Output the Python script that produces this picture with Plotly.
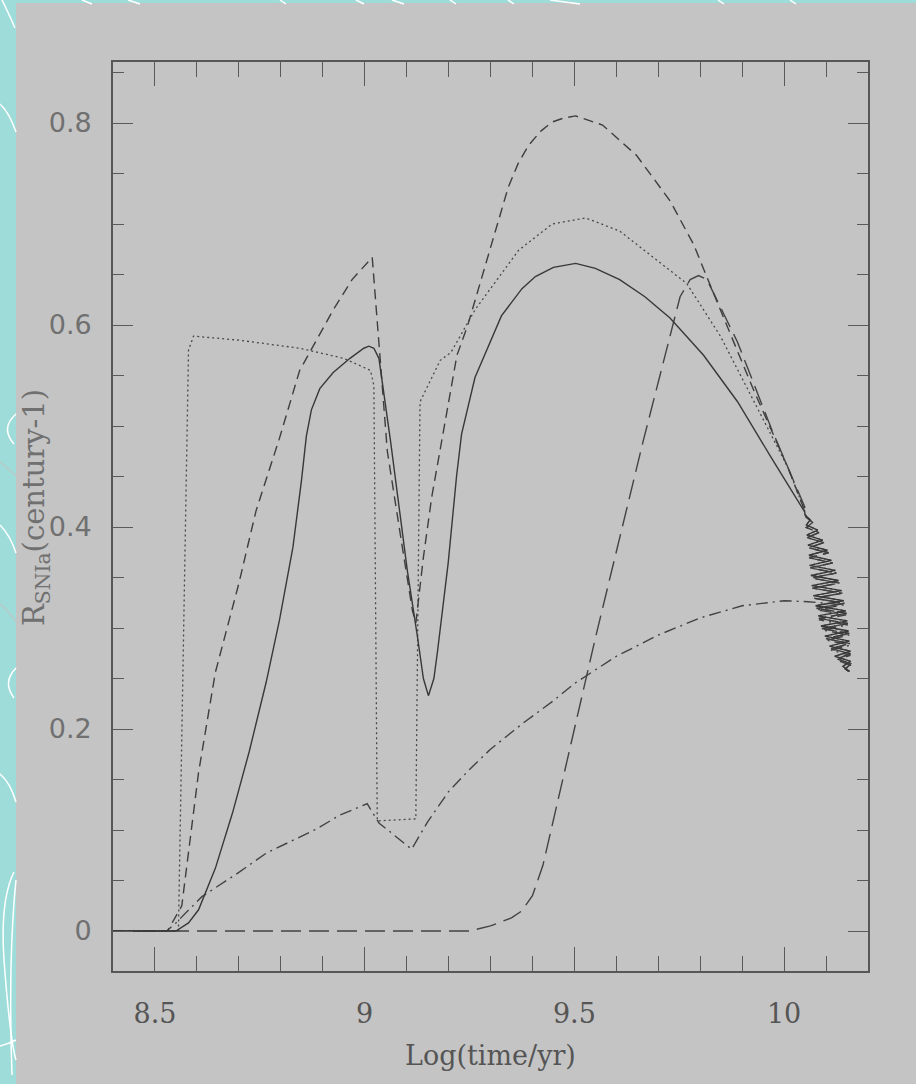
import plotly.graph_objects as go

# ---- data: log(age/yr) vs SN Ia rate (per century) ----
SOLID_X = [8.40, 8.55, 8.58, 8.604, 8.644, 8.685, 8.725, 8.765, 8.797, 8.829, 8.849,
           8.861, 8.873, 8.893, 8.925, 8.965, 8.998, 9.010, 9.022, 9.034, 9.062, 9.102, 9.126,
           9.140, 9.152, 9.165, 9.174, 9.199, 9.219, 9.231, 9.263, 9.303, 9.326, 9.375, 9.407,
           9.450, 9.503, 9.550, 9.608, 9.668, 9.728, 9.808, 9.889, 9.969, 10.049]
SOLID_Y = [0.0, 0.0, 0.008, 0.021, 0.062, 0.117, 0.178, 0.246, 0.308, 0.380, 0.445,
           0.490, 0.516, 0.537, 0.553, 0.567, 0.577, 0.579, 0.577, 0.567, 0.484, 0.356, 0.291,
           0.250, 0.233, 0.250, 0.278, 0.364, 0.450, 0.492, 0.548, 0.587, 0.609, 0.636, 0.648,
           0.657, 0.661, 0.656, 0.645, 0.628, 0.607, 0.570, 0.524, 0.469, 0.415]

DASH_X = [8.40, 8.53, 8.564, 8.604, 8.644, 8.700, 8.741, 8.797, 8.845, 8.925, 8.970, 9.018,
          9.034, 9.054, 9.086, 9.114, 9.122, 9.140, 9.160, 9.190, 9.220, 9.246, 9.294, 9.342,
          9.366, 9.391, 9.420, 9.447, 9.475, 9.503, 9.567, 9.648, 9.728, 9.784, 9.848, 9.929,
          10.009, 10.050]
DASH_Y = [0.0, 0.0, 0.025, 0.157, 0.256, 0.344, 0.416, 0.488, 0.555, 0.615, 0.645, 0.667,
          0.582, 0.475, 0.390, 0.317, 0.305, 0.370, 0.430, 0.500, 0.570, 0.600, 0.667, 0.736,
          0.760, 0.778, 0.792, 0.801, 0.805, 0.807, 0.798, 0.768, 0.723, 0.680, 0.615, 0.534,
          0.459, 0.415]

DOT_X = [8.40, 8.556, 8.580, 8.592, 8.700, 8.845, 8.950, 9.014, 9.022, 9.030, 9.122, 9.132,
         9.180, 9.206, 9.263, 9.286, 9.367, 9.447, 9.527, 9.608, 9.688, 9.768, 9.848, 9.929,
         10.009, 10.050]
DOT_Y = [0.0, 0.0, 0.575, 0.589, 0.585, 0.577, 0.567, 0.555, 0.540, 0.109, 0.111, 0.524,
         0.565, 0.573, 0.615, 0.628, 0.674, 0.700, 0.706, 0.693, 0.667, 0.641, 0.589, 0.524,
         0.459, 0.415]

LONG_X = [8.40, 9.25, 9.30, 9.35, 9.375, 9.40, 9.425, 9.45, 9.475, 9.50, 9.55, 9.616, 9.664,
          9.712, 9.752, 9.776, 9.796, 9.816, 9.848, 9.889, 9.969, 10.049]
LONG_Y = [0.0, 0.0, 0.005, 0.013, 0.020, 0.035, 0.065, 0.110, 0.155, 0.200, 0.290, 0.403,
          0.485, 0.563, 0.628, 0.645, 0.649, 0.645, 0.618, 0.583, 0.498, 0.420]

DASHDOT_X = [8.40, 8.528, 8.55, 8.612, 8.700, 8.765, 8.885, 8.942, 9.006, 9.034, 9.112, 9.150,
             9.200, 9.250, 9.300, 9.375, 9.450, 9.500, 9.600, 9.700, 9.800, 9.900, 10.000, 10.057]
DASHDOT_Y = [0.0, 0.0, 0.008, 0.034, 0.058, 0.077, 0.101, 0.115, 0.126, 0.107, 0.081, 0.108,
             0.138, 0.160, 0.180, 0.205, 0.228, 0.245, 0.272, 0.293, 0.310, 0.322, 0.327, 0.326]

# late-time oscillating tails
TAIL_A_X = [10.050, 10.062, 10.053, 10.080, 10.054, 10.092, 10.057, 10.103, 10.059, 10.113,
            10.061, 10.122, 10.064, 10.130, 10.066, 10.137, 10.070, 10.142, 10.075, 10.147,
            10.081, 10.151, 10.088, 10.154, 10.097, 10.156, 10.108, 10.158, 10.121, 10.159,
            10.140, 10.156]
TAIL_A_Y = [0.412, 0.407, 0.402, 0.397, 0.392, 0.387, 0.382, 0.377, 0.372, 0.367,
            0.362, 0.357, 0.352, 0.347, 0.342, 0.337, 0.332, 0.327, 0.322, 0.317,
            0.312, 0.307, 0.302, 0.297, 0.292, 0.287, 0.282, 0.277, 0.272, 0.267,
            0.262, 0.257]
TAIL_B_X = [10.052, 10.068, 10.053, 10.083, 10.055, 10.095, 10.058, 10.106, 10.060, 10.116,
            10.062, 10.125, 10.064, 10.132, 10.067, 10.139, 10.072, 10.144, 10.077, 10.149,
            10.083, 10.152, 10.090, 10.155, 10.100, 10.157, 10.112, 10.158, 10.126, 10.159,
            10.146, 10.157]
TAIL_B_Y = [0.410, 0.4045, 0.3995, 0.3945, 0.3895, 0.3845, 0.3795, 0.3745, 0.3695, 0.3645,
            0.3595, 0.3545, 0.3495, 0.3445, 0.3395, 0.3345, 0.3295, 0.3245, 0.3195, 0.3145,
            0.3095, 0.3045, 0.2995, 0.2945, 0.2895, 0.2845, 0.2795, 0.2745, 0.2695, 0.2645,
            0.2595, 0.256]
TAIL_C_X = [10.143, 10.077, 10.148, 10.083, 10.152, 10.091, 10.155, 10.102, 10.157, 10.112,
            10.158, 10.127, 10.159, 10.145]
TAIL_C_Y = [0.323, 0.318, 0.313, 0.308, 0.303, 0.298, 0.293, 0.288, 0.283, 0.278,
            0.273, 0.268, 0.263, 0.259]

X_TICKS = [8.5, 9, 9.5, 10]
X_TICK_TEXT = ["8.5", "9", "9.5", "10"]
Y_TICKS = [0, 0.2, 0.4, 0.6, 0.8]
Y_TICK_TEXT = ["0", "0.2", "0.4", "0.6", "0.8"]

# ---- page geometry (pixels) ----
W, H = 916, 1084
FL, FR, FT, FB = 113, 868, 62, 971   # frame edges

TEAL = "#9edcda"
PANEL = "#c4c4c4"
INK = "#3c3c3c"


def px(x):
    return (x - FL) / (FR - FL)


def py(y):
    return (FB - y) / (FB - FT)


def curve_path(pts):
    """Quadratic path through pixel points: M p0 Q c p1 (Q c p2 ...)."""
    s = f"M {px(pts[0][0])},{py(pts[0][1])}"
    rest = pts[1:]
    for i in range(0, len(rest) - 1, 2):
        c, p = rest[i], rest[i + 1]
        s += f" Q {px(c[0])},{py(c[1])} {px(p[0])},{py(p[1])}"
    return s


fig = go.Figure()


def add_line(xs, ys, dash, color=INK, width=1.4):
    fig.add_trace(go.Scatter(x=xs, y=ys, mode="lines",
                             line=dict(color=color, width=width, dash=dash),
                             hoverinfo="skip", showlegend=False))


add_line(DASHDOT_X + TAIL_C_X, DASHDOT_Y + TAIL_C_Y, "12px,5px,2px,5px", "#434343")
add_line(LONG_X + TAIL_B_X, LONG_Y + TAIL_B_Y, "20px,8px", "#434343")
add_line(DOT_X + TAIL_A_X, DOT_Y + TAIL_A_Y, "2px,3px", "#484848", 1.3)
add_line(DASH_X + TAIL_B_X, DASH_Y + TAIL_B_Y, "10px,6px", "#3e3e3e")
add_line(SOLID_X + TAIL_A_X, SOLID_Y + TAIL_A_Y, "solid", "#383838")

shapes = [
    # grey panel on the teal page
    dict(type="rect", xref="paper", yref="paper", layer="below",
         x0=px(16), x1=px(W + 2), y0=py(3), y1=py(H + 2),
         fillcolor=PANEL, line=dict(width=0)),
]

# decorative swirls in the teal border
swirls_white = [
    [(2, 0), (8, 12), (15, 28)],
    [(0, 104), (9, 112), (16, 132)],
    [(16, 414), (0, 428), (14, 444)],
    [(0, 525), (10, 535), (16, 553)],
    [(16, 668), (2, 682), (14, 698)],
    [(0, 774), (10, 782), (16, 802)],
    [(14, 872), (0, 900), (4, 960), (10, 1040), (16, 1060)],
    [(16, 880), (8, 960), (12, 1075)],
    [(0, 1046), (8, 1044), (16, 1040)],
]
swirls_grey = [
    [(0, 462), (8, 468), (16, 476)],
    [(0, 604), (8, 610), (16, 622)],
]
for pts in swirls_white:
    shapes.append(dict(type="path", xref="paper", yref="paper", layer="above",
                       path=curve_path(pts), line=dict(color="white", width=1.5)))
for pts in swirls_grey:
    shapes.append(dict(type="path", xref="paper", yref="paper", layer="above",
                       path=curve_path(pts), line=dict(color="#b9c9c9", width=1.5)))
for x0, x1 in [(82, 92), (128, 140), (280, 286), (356, 364), (392, 404), (450, 456),
               (508, 514), (550, 580), (718, 724), (790, 796)]:
    shapes.append(dict(type="line", xref="paper", yref="paper", layer="above",
                       x0=px(x0), x1=px(x1), y0=py(0), y1=py(4),
                       line=dict(color="white", width=1.5)))

fig.update_layout(
    width=W, height=H,
    margin=dict(l=FL, r=W - FR, t=FT, b=H - FB, pad=0),
    paper_bgcolor=TEAL,
    plot_bgcolor=PANEL,
    shapes=shapes,
    showlegend=False,
    xaxis=dict(
        range=[8.4, 10.2], showgrid=False, zeroline=False,
        showline=True, linecolor="#575757", linewidth=1.6, mirror="allticks",
        ticks="inside", ticklen=24, tickwidth=1.2, tickcolor="#5a5a5a",
        tickvals=X_TICKS, ticktext=X_TICK_TEXT,
        tickfont=dict(family="DejaVu Serif", size=27, color="#555555"),
        ticklabelstandoff=18,
        minor=dict(dtick=0.1, tick0=8.4, ticks="inside", ticklen=15,
                   tickwidth=1.2, tickcolor="#5a5a5a", showgrid=False),
    ),
    yaxis=dict(
        range=[-0.0396, 0.8604], showgrid=False, zeroline=False,
        showline=True, linecolor="#575757", linewidth=1.6, mirror="allticks",
        ticks="inside", ticklen=20, tickwidth=1.2, tickcolor="#5a5a5a",
        tickvals=Y_TICKS, ticktext=Y_TICK_TEXT,
        tickfont=dict(family="DejaVu Sans", size=27, color="#707070"),
        ticklabelstandoff=14,
        minor=dict(dtick=0.05, tick0=0, ticks="inside", ticklen=11,
                   tickwidth=1.2, tickcolor="#5a5a5a", showgrid=False),
    ),
    annotations=[
        dict(text="Log(time/yr)", xref="paper", yref="paper",
             x=0.5, y=py(1055), xanchor="center", yanchor="middle", showarrow=False,
             font=dict(family="DejaVu Serif", size=27, color="#555555")),
        dict(text="R<sub>SNIa</sub>(century-1)", xref="paper", yref="paper",
             x=px(36), y=py(508), xanchor="center", yanchor="middle", showarrow=False,
             textangle=-90,
             font=dict(family="DejaVu Serif", size=29, color="#707070")),
    ],
)

fig.write_html("out.html")
